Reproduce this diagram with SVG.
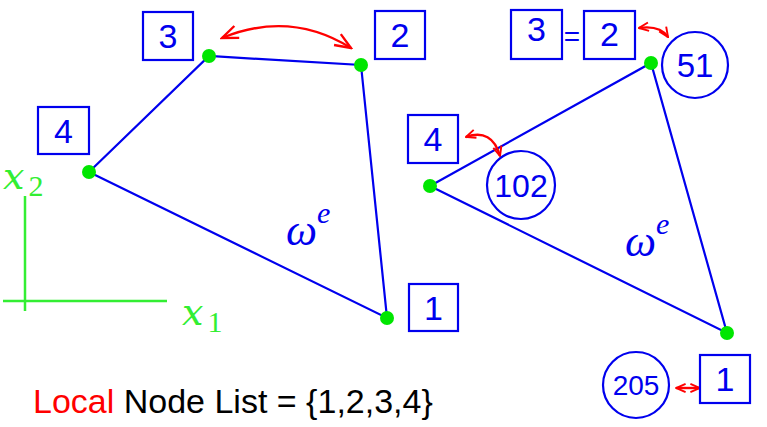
<svg xmlns="http://www.w3.org/2000/svg" width="767" height="427" viewBox="0 0 767 427">
<defs>
<marker id="ah" viewBox="0 0 10 10" refX="9" refY="5" markerWidth="12" markerHeight="12" orient="auto-start-reverse" markerUnits="userSpaceOnUse">
<path d="M1,1.5 L9,5 L1,8.5" fill="none" stroke="#ff0000" stroke-width="1.6"/>
</marker>
<marker id="ahb" viewBox="0 0 10 10" refX="9" refY="5" markerWidth="20" markerHeight="20" orient="auto-start-reverse" markerUnits="userSpaceOnUse">
<path d="M1,1.8 L9,5 L1,8.2" fill="none" stroke="#ff0000" stroke-width="1.2"/>
</marker>
<style>
.edge{stroke:#0000ee;stroke-width:2.2;fill:none}
.box{fill:#fff;stroke:#0000ee;stroke-width:2.2}
.circ{fill:#fff;stroke:#0000ee;stroke-width:2.2}
.num{font-family:"Liberation Sans",Arial,sans-serif;fill:#0000ee;text-anchor:middle}
.dot{fill:#00e600}
.red{stroke:#ff0000;stroke-width:2.4;fill:none;marker-start:url(#ah);marker-end:url(#ah)}
.redb{stroke:#ff0000;stroke-width:2.4;fill:none;marker-start:url(#ahb);marker-end:url(#ahb)}
.math{font-family:"Liberation Serif","DejaVu Serif",serif;font-style:italic}
.mathx{font-family:"DejaVu Serif","Liberation Serif",serif;font-style:italic}
.axis{stroke:#33ee33;stroke-width:2.5;fill:none}
</style>
</defs>
<g id="connectors">
<polyline class="edge" points="89,172 209,56 361,65 387,318 89,172"/>
<polyline class="edge" points="430,186 651,63 727,333 430,186"/>
<path class="redb" d="M222,38 Q290,10 351,48"/>
<path class="red" d="M639,28 Q660,25 668,37"/>
<path class="red" d="M466,137 Q492,128 500,156"/>
<path class="red" d="M676,388 L700,388"/>
</g>
<g id="axes">
<line class="axis" x1="25" y1="196" x2="25" y2="311"/>
<line class="axis" x1="3" y1="301" x2="167" y2="301"/>
<text class="mathx" x="3" y="189" font-size="38" fill="#33ee33">x<tspan font-family="Liberation Serif,serif" font-style="normal" font-size="30" dx="4" dy="7">2</tspan></text>
<text class="mathx" x="182" y="325" font-size="38" fill="#33ee33">x<tspan font-family="Liberation Serif,serif" font-style="normal" font-size="30" dx="4" dy="7">1</tspan></text>
</g>
<g id="left-node-1"><circle class="dot" cx="387" cy="318" r="7"/><rect class="box" x="409" y="284" width="49" height="47"/><text class="num" x="433.5" y="320" font-size="34">1</text></g>
<g id="left-node-2"><circle class="dot" cx="361" cy="65" r="7"/><rect class="box" x="375" y="11" width="50" height="48"/><text class="num" x="400" y="47" font-size="34">2</text></g>
<g id="left-node-3"><circle class="dot" cx="209" cy="56" r="7"/><rect class="box" x="143" y="12" width="50" height="48"/><text class="num" x="168" y="48" font-size="34">3</text></g>
<g id="left-node-4"><circle class="dot" cx="89" cy="172" r="7"/><rect class="box" x="38" y="107" width="51" height="47"/><text class="num" x="63.5" y="143" font-size="34">4</text></g>
<g id="left-label"><text class="math" x="286" y="245" font-size="44" fill="#0000ee">ω<tspan font-size="30" dy="-22">e</tspan></text></g>
<g id="right-node-51"><circle class="dot" cx="651" cy="63" r="7"/><circle class="circ" cx="695" cy="65" r="33"/><text class="num" x="695" y="77" font-size="33">51</text></g>
<g id="right-box-3-2"><rect class="box" x="511" y="10" width="51" height="49"/><text class="num" x="536.5" y="41" font-size="34">3</text><text class="num" x="572" y="46" font-size="28">=</text><rect class="box" x="584" y="11" width="51" height="48"/><text class="num" x="609.5" y="46" font-size="34">2</text></g>
<g id="right-node-102"><circle class="dot" cx="430" cy="186" r="7"/><circle class="circ" cx="521" cy="185" r="34"/><text class="num" x="521" y="197" font-size="32">102</text></g>
<g id="right-box-4"><rect class="box" x="408" y="115" width="50" height="48"/><text class="num" x="433" y="151" font-size="34">4</text></g>
<g id="right-node-205"><circle class="dot" cx="727" cy="333" r="7"/><circle class="circ" cx="636" cy="385" r="33"/><text class="num" x="636" y="395" font-size="28">205</text></g>
<g id="right-box-1"><rect class="box" x="700" y="355" width="50" height="48"/><text class="num" x="725" y="391" font-size="34">1</text></g>
<g id="right-label"><text class="math" x="625" y="256" font-size="44" fill="#0000ee">ω<tspan font-size="30" dy="-22">e</tspan></text></g>
<g id="caption"><text x="33" y="413" font-family="Liberation Sans,Arial,sans-serif" font-size="34" fill="#000"><tspan fill="#ff0000">Local</tspan> Node List = {1,2,3,4}</text></g>
</svg>
